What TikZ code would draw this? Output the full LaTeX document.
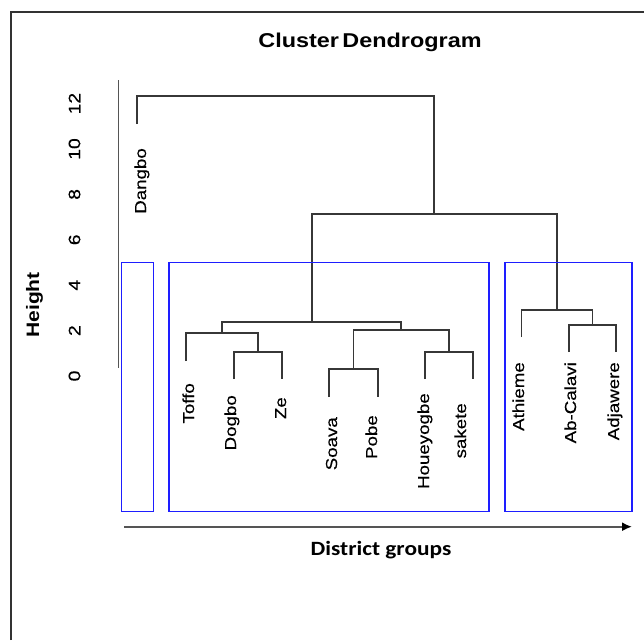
\documentclass[tikz,border=0pt]{standalone}
\usepackage{fontspec}
\setmainfont{Liberation Sans}[FakeStretch=1.17]
\newfontfamily\labfont{Liberation Sans}[FakeStretch=1.17, FakeBold=0.3]
\newfontfamily\calib{Carlito}[FakeStretch=1.15]
\usetikzlibrary{arrows.meta}
\definecolor{dend}{RGB}{55,55,55}
\definecolor{grpblue}{RGB}{30,30,255}
\definecolor{axisgray}{RGB}{85,85,85}
\definecolor{framegray}{RGB}{50,50,50}
\tikzset{
  dline/.style={draw=dend, line width=1.8pt},
  grpbox/.style={draw=grpblue, line width=1.8pt},
  leaflab/.style={rotate=90, anchor=east, inner sep=0pt, text height=11.5pt, text depth=3.4pt, font=\labfont\fontsize{16}{16}\selectfont},
  ticklab/.style={rotate=90, inner sep=0pt, font=\labfont\fontsize{16.5}{16}\selectfont},
}
\begin{document}
\begin{tikzpicture}[x=1pt, y=-1pt]
\useasboundingbox (0,0) rectangle (644,640);
% frame (top and left edges visible)
\draw[framegray, line width=2pt] (10.5,640) -- (10.5,11.5) -- (644,11.5);
% title
\node[anchor=base, inner sep=0pt, font=\bfseries\fontsize{20}{20}\selectfont] (title) at (370,47) {Cluster\hspace{3.5pt}Dendrogram};
% y axis
\coordinate (ytop) at (118.5,80);
\coordinate (ybot) at (118.5,368);
\draw[axisgray, line width=1.8pt] (ytop) -- (ybot);
\foreach \v in {0,2,...,12} {
  \node[ticklab] (tick\v) at (74.5,{376-22.7*\v}) {\v};
}
\node[rotate=90, inner sep=0pt, font=\bfseries\fontsize{18}{18}\selectfont] (ylab) at (34.5,305) {Height};
% leaves
\coordinate (dangbo) at (137,124);
\coordinate (toffo) at (186,361);
\coordinate (dogbo) at (234,379);
\coordinate (ze) at (282,379);
\coordinate (soava) at (329,397);
\coordinate (pobe) at (378,397);
\coordinate (houe) at (425,379);
\coordinate (sakete) at (473,379);
\coordinate (athieme) at (521.5,337);
\coordinate (abcal) at (569,352);
\coordinate (adjaw) at (616,352);
% merges
\coordinate (mDZ) at (258,352);
\coordinate (mT) at (222,333);
\coordinate (mSP) at (353.5,369);
\coordinate (mHS) at (449,352);
\coordinate (mR) at (401.25,330);
\coordinate (mL) at (311.6,322);
\coordinate (mAA) at (592.5,325);
\coordinate (mRG) at (557,310);
\coordinate (m2) at (434.3,214);
\coordinate (mTop) at (285.6,96);
% dendrogram
\draw[dline] (dogbo) |- (mDZ) -| (ze);
\draw[dline] (toffo) |- (mT) -| (mDZ);
\draw[dline] (soava) |- (mSP) -| (pobe);
\draw[dline] (houe) |- (mHS) -| (sakete);
\draw[dline] (mSP) |- (mR) -| (mHS);
\draw[dline] (mT) |- (mL) -| (mR);
\draw[dline] (abcal) |- (mAA) -| (adjaw);
\draw[dline] (athieme) |- (mRG) -| (mAA);
\draw[dline] (mL) |- (m2) -| (mRG);
\draw[dline] (dangbo) |- (mTop) -| (m2);
% leaf labels
\node[leaflab] (lDangbo) at (142,148) {Dangbo};
\node[leaflab] (lToffo) at (190,383) {Toffo};
\node[leaflab] (lDogbo) at (232,395) {Dogbo};
\node[leaflab] (lZe) at (282,397) {Ze};
\node[leaflab] (lSoava) at (333,417) {Soava};
\node[leaflab] (lPobe) at (373,415) {Pobe};
\node[leaflab] (lHoue) at (425,393) {Houeyogbe};
\node[leaflab] (lSakete) at (462,403) {sakete};
\node[leaflab] (lAthieme) at (520,362) {Athieme};
\node[leaflab] (lAbCalavi) at (572,362) {Ab-Calavi};
\node[leaflab] (lAdjawere) at (615,362) {Adjawere};
% group boxes
\draw[grpbox] (121.5,262.5) rectangle (153.5,511.5);
\draw[grpbox] (169,262.5) rectangle (489.3,511.5);
\draw[grpbox] (505,262.5) rectangle (631.7,511.5);
% x arrow
\coordinate (xstart) at (124,526.7);
\coordinate (xend) at (632,526.7);
\draw[axisgray, line width=1.8pt, -{Latex[length=10pt,width=9pt,color=black]}] (xstart) -- (xend);
\node[anchor=base, inner sep=0pt, font=\calib\bfseries\fontsize{20.3}{20}\selectfont] (xlab) at (381,555) {District groups};
\end{tikzpicture}
\end{document}
